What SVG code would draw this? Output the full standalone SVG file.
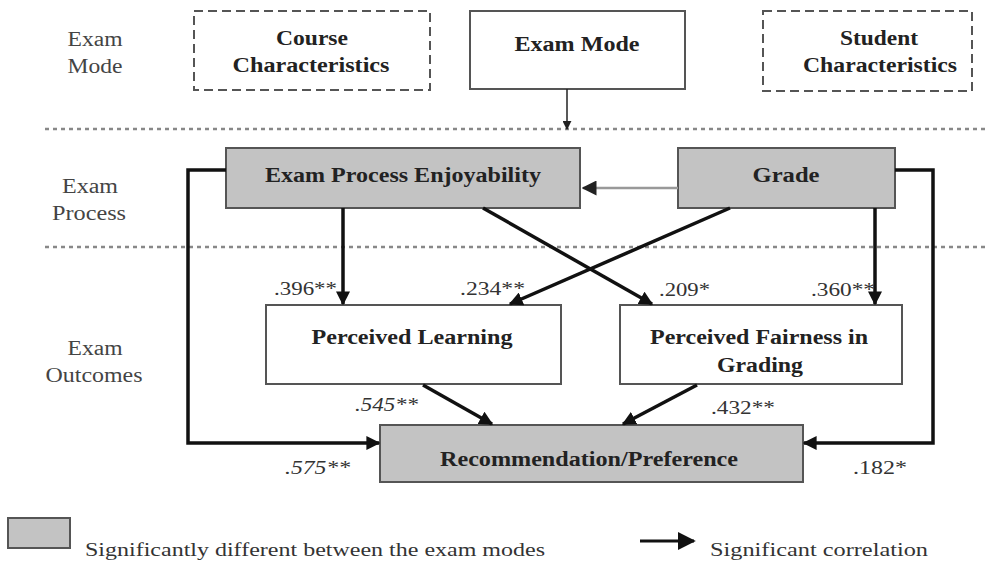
<svg xmlns="http://www.w3.org/2000/svg" width="989" height="561" viewBox="0 0 989 561">
<defs>
<style>
.node{stroke:#555;stroke-width:2}
.white{fill:#fff}
.grey{fill:#c3c3c3}
.dash{fill:#fff;stroke:#555;stroke-width:2;stroke-dasharray:9 5}
.sep{stroke:#888;stroke-width:2.5;stroke-dasharray:4 4}
.t{font-family:"Liberation Serif","Times New Roman",serif;font-weight:bold;font-size:20px;fill:#222;text-anchor:middle}
.side{font-family:"Liberation Serif","Times New Roman",serif;font-size:20px;fill:#444;text-anchor:middle}
.num{font-family:"Liberation Serif","Times New Roman",serif;font-size:19px;fill:#333}
.it{font-style:italic}
.conn{fill:none;stroke:#111;stroke-width:3.5}
.leg{font-family:"Liberation Serif","Times New Roman",serif;font-size:19px;fill:#333}
</style>
<marker id="ah" viewBox="0 0 10 10" refX="9" refY="5" markerWidth="4" markerHeight="4" orient="auto" markerUnits="strokeWidth"><path d="M0,0 L10,5 L0,10 z" fill="#111"/></marker>
<marker id="ahs" viewBox="0 0 10 10" refX="9" refY="5" markerWidth="6" markerHeight="6" orient="auto" markerUnits="strokeWidth"><path d="M0,0 L10,5 L0,10 z" fill="#111"/></marker>
<marker id="ahg" viewBox="0 0 10 10" refX="9" refY="5" markerWidth="6" markerHeight="6" orient="auto" markerUnits="strokeWidth"><path d="M0,0 L10,5 L0,10 z" fill="#222"/></marker>
</defs>
<rect width="989" height="561" fill="#fff"/>

<g id="section-labels">
<text class="side" x="95" y="46" textLength="55" lengthAdjust="spacingAndGlyphs">Exam</text>
<text class="side" x="95" y="73" textLength="55" lengthAdjust="spacingAndGlyphs">Mode</text>
<text class="side" x="90" y="193" textLength="56" lengthAdjust="spacingAndGlyphs">Exam</text>
<text class="side" x="89" y="220" textLength="74" lengthAdjust="spacingAndGlyphs">Process</text>
<text class="side" x="95" y="355" textLength="55" lengthAdjust="spacingAndGlyphs">Exam</text>
<text class="side" x="94" y="382" textLength="97" lengthAdjust="spacingAndGlyphs">Outcomes</text>
</g>

<g id="separators">
<line class="sep" x1="45" y1="129" x2="989" y2="129"/>
<line class="sep" x1="45" y1="247" x2="989" y2="247"/>
</g>

<g id="course-characteristics">
<rect class="dash" x="194" y="11" width="236" height="79"/>
<text class="t" x="312" y="45" textLength="72" lengthAdjust="spacingAndGlyphs">Course</text>
<text class="t" x="311" y="72" textLength="157" lengthAdjust="spacingAndGlyphs">Characteristics</text>
</g>
<g id="exam-mode">
<rect class="node white" x="470" y="11" width="215" height="78"/>
<text class="t" x="577" y="51" textLength="125" lengthAdjust="spacingAndGlyphs">Exam Mode</text>
</g>
<g id="student-characteristics">
<rect class="dash" x="763" y="11" width="209" height="80"/>
<text class="t" x="879" y="45" textLength="78" lengthAdjust="spacingAndGlyphs">Student</text>
<text class="t" x="880" y="72" textLength="154" lengthAdjust="spacingAndGlyphs">Characteristics</text>
</g>
<g id="exam-process-enjoyability">
<rect class="node grey" x="226" y="148" width="354" height="60"/>
<text class="t" x="403" y="182" textLength="276" lengthAdjust="spacingAndGlyphs">Exam Process Enjoyability</text>
</g>
<g id="grade">
<rect class="node grey" x="678" y="148" width="217" height="60"/>
<text class="t" x="786" y="182" textLength="67" lengthAdjust="spacingAndGlyphs">Grade</text>
</g>
<g id="perceived-learning">
<rect class="node white" x="266" y="305" width="295" height="79"/>
<text class="t" x="412" y="344" textLength="201" lengthAdjust="spacingAndGlyphs">Perceived Learning</text>
</g>
<g id="perceived-fairness">
<rect class="node white" x="620" y="305" width="282" height="79"/>
<text class="t" x="759" y="344" textLength="218" lengthAdjust="spacingAndGlyphs">Perceived Fairness in</text>
<text class="t" x="760" y="372" textLength="86" lengthAdjust="spacingAndGlyphs">Grading</text>
</g>
<g id="recommendation">
<rect class="node grey" x="380" y="425" width="423" height="57"/>
<text class="t" x="589" y="466" textLength="298" lengthAdjust="spacingAndGlyphs">Recommendation/Preference</text>
</g>

<g id="connectors">
<line x1="567" y1="89" x2="567" y2="129" stroke="#222" stroke-width="1.5" marker-end="url(#ahg)"/>
<line x1="678" y1="188" x2="583" y2="188" stroke="#999" stroke-width="2.5" marker-end="url(#ahg)"/>
<line class="conn" x1="343" y1="208" x2="343" y2="304" marker-end="url(#ah)"/>
<line class="conn" x1="875" y1="208" x2="875" y2="304" marker-end="url(#ah)"/>
<line class="conn" x1="483" y1="208" x2="652" y2="304" marker-end="url(#ah)"/>
<line class="conn" x1="730" y1="208" x2="510" y2="304" marker-end="url(#ah)"/>
<line class="conn" x1="423" y1="385" x2="492" y2="424" marker-end="url(#ah)"/>
<line class="conn" x1="697" y1="385" x2="623" y2="424" marker-end="url(#ah)"/>
<polyline class="conn" points="226,170 188,170 188,443 379,443" marker-end="url(#ah)"/>
<polyline class="conn" points="895,170 933,170 933,443 804,443" marker-end="url(#ah)"/>
</g>

<g id="coefficients">
<text class="num" x="274" y="295" textLength="63" lengthAdjust="spacingAndGlyphs">.396**</text>
<text class="num" x="460" y="295" textLength="65" lengthAdjust="spacingAndGlyphs">.234**</text>
<text class="num" x="659" y="296" textLength="51" lengthAdjust="spacingAndGlyphs">.209*</text>
<text class="num" x="811" y="296" textLength="64" lengthAdjust="spacingAndGlyphs">.360**</text>
<text class="num it" x="355" y="411" textLength="63" lengthAdjust="spacingAndGlyphs">.545**</text>
<text class="num" x="711" y="414" textLength="64" lengthAdjust="spacingAndGlyphs">.432**</text>
<text class="num it" x="285" y="474" textLength="65" lengthAdjust="spacingAndGlyphs">.575**</text>
<text class="num" x="853" y="474" textLength="54" lengthAdjust="spacingAndGlyphs">.182*</text>
</g>

<g id="legend">
<rect class="node grey" x="8" y="518" width="62" height="30"/>
<text class="leg" x="85" y="556" textLength="460" lengthAdjust="spacingAndGlyphs">Significantly different between the exam modes</text>
<line x1="640" y1="541" x2="694" y2="541" stroke="#111" stroke-width="3" marker-end="url(#ahs)"/>
<text class="leg" x="710" y="556" textLength="218" lengthAdjust="spacingAndGlyphs">Significant correlation</text>
</g>
</svg>
